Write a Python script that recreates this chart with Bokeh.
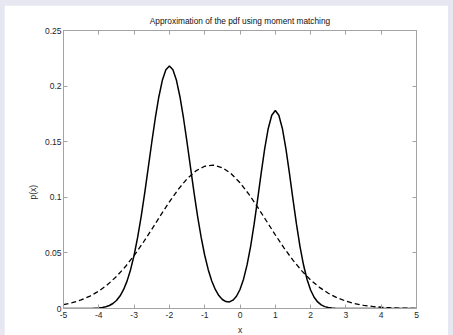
from bokeh.plotting import figure
from bokeh.models import Range1d, LinearAxis, FixedTicker, Title, CustomLabelingPolicy
from bokeh.embed import file_html
from bokeh.resources import INLINE

# ---- data ----
title_text = "Approximation of the pdf using moment matching"
x_label_text = "x"
y_label_text = "p(x)"

x_ticks = [-5, -4, -3, -2, -1, 0, 1, 2, 3, 4, 5]
x_tick_labels = ["-5", "-4", "-3", "-2", "-1", "0", "1", "2", "3", "4", "5"]
y_ticks = [0, 0.05, 0.1, 0.15, 0.2, 0.25]
y_tick_labels = ["0", "0.05", "0.1", "0.15", "0.2", "0.25"]

# true pdf (mixture, solid line)
x_mix = [-5.0, -4.5, -4.2, -4.0, -3.9, -3.8, -3.7, -3.6, -3.5, -3.4, -3.3, -3.2,
         -3.1, -3.0, -2.9, -2.8, -2.7, -2.6, -2.5, -2.4, -2.3, -2.2, -2.1, -2.0,
         -1.9, -1.8, -1.7, -1.6, -1.5, -1.4, -1.3, -1.2, -1.1, -1.0, -0.9, -0.8,
         -0.7, -0.6, -0.5, -0.4, -0.3, -0.2, -0.1, 0.0, 0.1, 0.2, 0.3, 0.4, 0.5,
         0.6, 0.7, 0.8, 0.9, 1.0, 1.1, 1.2, 1.3, 1.4, 1.5, 1.6, 1.7, 1.8, 1.9,
         2.0, 2.1, 2.2, 2.3, 2.4, 2.5, 2.6, 2.7, 2.8, 3.0, 3.5, 4.0, 4.5, 5.0]
p_mix = [0.0, 0.0, 0.0001, 0.0005, 0.0009, 0.0016, 0.0027, 0.0045, 0.0072, 0.0112,
         0.0169, 0.0246, 0.0349, 0.0479, 0.0639, 0.0827, 0.1038, 0.1264, 0.1493,
         0.1711, 0.1902, 0.2052, 0.2147, 0.2180, 0.2147, 0.2052, 0.1902, 0.1711,
         0.1493, 0.1264, 0.1038, 0.0827, 0.0639, 0.0479, 0.0349, 0.0247, 0.0171,
         0.0116, 0.0081, 0.0062, 0.0059, 0.0075, 0.0110, 0.0171, 0.0264, 0.0392,
         0.0557, 0.0758, 0.0984, 0.1218, 0.1438, 0.1619, 0.1738, 0.1780, 0.1738,
         0.1619, 0.1438, 0.1218, 0.0984, 0.0758, 0.0557, 0.0391, 0.0261, 0.0166,
         0.0101, 0.0059, 0.0032, 0.0017, 0.0009, 0.0004, 0.0002, 0.0001, 0.0,
         0.0, 0.0, 0.0, 0.0]

# moment-matched Gaussian (dashed line)
x_gauss = [-5.0, -4.75, -4.5, -4.25, -4.0, -3.75, -3.5, -3.25, -3.0, -2.75, -2.5,
           -2.25, -2.0, -1.75, -1.5, -1.25, -1.0, -0.75, -0.5, -0.25, 0.0, 0.25,
           0.5, 0.75, 1.0, 1.25, 1.5, 1.75, 2.0, 2.25, 2.5, 2.75, 3.0, 3.25, 3.5,
           3.75, 4.0, 4.25, 4.5, 4.75, 5.0]
p_gauss = [0.00342, 0.00520, 0.00771, 0.01114, 0.01569, 0.02152, 0.02878, 0.03751,
           0.04764, 0.05898, 0.07117, 0.08370, 0.09591, 0.10713, 0.11663, 0.12374,
           0.12794, 0.12893, 0.12663, 0.12121, 0.11308, 0.10281, 0.09111, 0.07868,
           0.06623, 0.05432, 0.04343, 0.03384, 0.02570, 0.01902, 0.01372, 0.00965,
           0.00661, 0.00441, 0.00287, 0.00182, 0.00112, 0.00068, 0.00040, 0.00023,
           0.00013]

# ---- figure ----
FONT = "Liberation Sans"
FRAME = "#a3a3a3"
TXT = "#262626"

p = figure(width=444, height=332,
           x_range=Range1d(-5, 5), y_range=Range1d(0, 0.25),
           output_backend="svg", toolbar_location=None,
           min_border_left=59, min_border_right=32,
           min_border_top=25, min_border_bottom=28,
           x_axis_location=None, y_axis_location=None)
p.background_fill_color = "white"
p.border_fill_color = "white"
p.outline_line_color = FRAME
p.outline_line_width = 1
p.grid.visible = False

p.title.text = title_text
p.title.text_font = FONT
p.title.text_font_size = "8.3px"
p.title.text_font_style = "normal"
p.title.text_color = "#111111"
p.title.align = "center"
p.title.standoff = 2

no_labels = CustomLabelingPolicy(code="return new Set()")


def style_axis(ax, ticks, labels, show_labels):
    ax.ticker = FixedTicker(ticks=ticks)
    ax.minor_tick_line_color = None
    ax.major_tick_in = 4
    ax.major_tick_out = 0
    ax.axis_line_color = FRAME
    ax.major_tick_line_color = FRAME
    ax.major_label_overrides = {t: l for t, l in zip(ticks, labels)}
    if show_labels:
        ax.major_label_text_font = FONT
        ax.major_label_text_font_size = "8.5px"
        ax.major_label_text_color = TXT
        ax.major_label_standoff = 3
    else:
        ax.major_label_policy = no_labels
        ax.major_label_text_font_size = "1px"
        ax.major_label_standoff = 0


bottom = LinearAxis()
style_axis(bottom, x_ticks, x_tick_labels, True)
p.add_layout(bottom, "below")
left = LinearAxis()
style_axis(left, y_ticks, y_tick_labels, True)
left.major_label_standoff = 2
p.add_layout(left, "left")
top = LinearAxis()
style_axis(top, x_ticks, x_tick_labels, False)
p.add_layout(top, "above")
right = LinearAxis()
style_axis(right, y_ticks, y_tick_labels, False)
p.add_layout(right, "right")

p.line(x_gauss, p_gauss, line_color="black", line_width=1.3, line_dash="5 3")
p.line(x_mix, p_mix, line_color="black", line_width=1.5)

xlab = Title(text=x_label_text, align="center", text_font=FONT,
             text_font_size="8.5px", text_font_style="normal",
             text_color=TXT, standoff=5)
p.add_layout(xlab, "below")
ylab = Title(text=y_label_text, align="left", text_font=FONT,
             text_font_size="8.5px", text_font_style="normal",
             text_color=TXT, standoff=7, offset=109)
p.add_layout(ylab, "left")

html = file_html(p, INLINE)
css = ("<style>html,body{background:#e7e7f1 !important;}"
       "body{margin:0 !important;padding:5px 0 0 4px !important;"
       "box-sizing:border-box !important;overflow:hidden !important;}</style>")
html = html.replace("</head>", css + "</head>", 1)
open("out.html", "w").write(html)
